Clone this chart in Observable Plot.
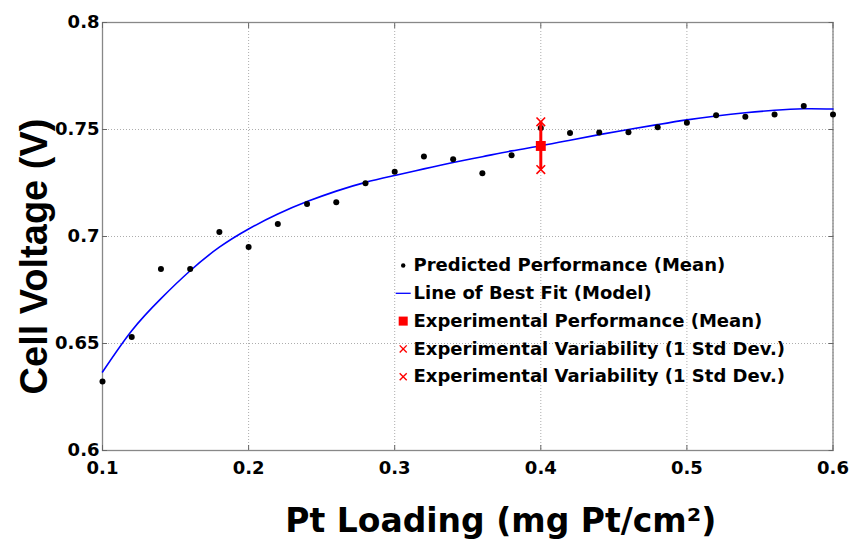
<!DOCTYPE html>
<html>
<head>
<meta charset="utf-8">
<script src="https://cdn.jsdelivr.net/npm/d3@7"></script>
<script src="https://cdn.jsdelivr.net/npm/@observablehq/plot@0.6"></script>
<style>
  html, body { margin: 0; padding: 0; background: #fff; }
  #chart { width: 852px; height: 541px; }
</style>
</head>
<body>
<div id="chart"></div>
<script>
// Predicted performance (mean)
const predLoading = [0.10,0.12,0.14,0.16,0.18,0.20,0.22,0.24,0.26,0.28,0.30,0.32,0.34,0.36,0.38,0.40,0.42,0.44,0.46,0.48,0.50,0.52,0.54,0.56,0.58,0.60];
const predVoltage = [0.6323,0.6530,0.6848,0.6848,0.7021,0.6951,0.7058,0.7152,0.7160,0.7249,0.7303,0.7374,0.7361,0.7295,0.7380,0.7507,0.7484,0.7486,0.7487,0.7510,0.7531,0.7567,0.7560,0.7570,0.7610,0.7570];

// Line of best fit (model)
const fitLoading = [0.10,0.12,0.14,0.16,0.18,0.20,0.22,0.24,0.26,0.28,0.30,0.32,0.34,0.36,0.38,0.40,0.42,0.44,0.46,0.48,0.50,0.52,0.54,0.56,0.58,0.60];
const fitVoltage = [0.6367,0.6560,0.6710,0.6840,0.6950,0.7035,0.7105,0.7163,0.7212,0.7253,0.7285,0.7316,0.7346,0.7373,0.7400,0.7424,0.7450,0.7476,0.7500,0.7523,0.7545,0.7563,0.7578,0.7590,0.7597,0.7596];

// Experimental performance
const expLoading = [0.40];
const expMean = [0.7423];
const expLow = [0.7313];
const expHigh = [0.7536];

// Axes
const xTicks = [0.1,0.2,0.3,0.4,0.5,0.6];
const yTicks = [0.6,0.65,0.7,0.75,0.8];
const xTickLabels = ["0.1","0.2","0.3","0.4","0.5","0.6"];
const yTickLabels = ["0.6","0.65","0.7","0.75","0.8"];

const legendLabels = [
  "Predicted Performance (Mean)",
  "Line of Best Fit (Model)",
  "Experimental Performance (Mean)",
  "Experimental Variability (1 Std Dev.)",
  "Experimental Variability (1 Std Dev.)"
];

const pred = predLoading.map((x, i) => ({x, y: predVoltage[i]}));
const fit = fitLoading.map((x, i) => ({x, y: fitVoltage[i]}));
const exp = expLoading.map((x, i) => ({x, mean: expMean[i], lo: expLow[i], hi: expHigh[i]}));

const sansFont = "'Liberation Sans', Arial, sans-serif";
const dejaFont = "'DejaVu Sans', Verdana, sans-serif";

const hline = { draw(ctx, size) { ctx.moveTo(-7.5, 0); ctx.lineTo(7.5, 0); } };

const legX = 311, legY0 = 243, legStep = 27.8, mkX = 300.7;
const legendMarks = [];
legendLabels.forEach((t, i) => {
  legendMarks.push(Plot.text([t], {
    text: d => d, frameAnchor: "top-left", dx: legX, dy: legY0 + i * legStep,
    textAnchor: "start", lineAnchor: "middle", fontFamily: dejaFont, fontWeight: "bold", fontSize: 18, fill: "#000"
  }));
});
legendMarks.push(Plot.dot([0], {frameAnchor: "top-left", dx: mkX, dy: legY0, r: 2.2, fill: "#000", stroke: "none"}));
legendMarks.push(Plot.dot([0], {frameAnchor: "top-left", dx: mkX, dy: legY0 + legStep, symbol: hline, r: 5, fill: "none", stroke: "#0000ff", strokeWidth: 1.3}));
legendMarks.push(Plot.dot([0], {frameAnchor: "top-left", dx: mkX, dy: legY0 + 2 * legStep, symbol: "square", r: 5.1, fill: "#ff0000", stroke: "none"}));
legendMarks.push(Plot.dot([0], {frameAnchor: "top-left", dx: mkX, dy: legY0 + 3 * legStep, symbol: "times", r: 3.3, fill: "none", stroke: "#ff0000", strokeWidth: 1.4}));
legendMarks.push(Plot.dot([0], {frameAnchor: "top-left", dx: mkX, dy: legY0 + 4 * legStep, symbol: "times", r: 3.3, fill: "none", stroke: "#ff0000", strokeWidth: 1.4}));

const chart = Plot.plot({
  width: 852,
  height: 541,
  marginLeft: 102,
  marginRight: 19.5,
  marginTop: 22,
  marginBottom: 91,
  style: {background: "#fff", overflow: "visible"},
  x: {domain: [0.1, 0.6]},
  y: {domain: [0.6, 0.8]},
  marks: [
    Plot.gridX(xTicks, {stroke: "#777", strokeOpacity: 0.6, strokeDasharray: "1,2", strokeWidth: 1}),
    Plot.gridY(yTicks, {stroke: "#777", strokeOpacity: 0.6, strokeDasharray: "1,2", strokeWidth: 1}),
    Plot.frame({stroke: "#888", strokeWidth: 1.3}),
    // inward ticks on all four sides
    Plot.axisX(xTicks, {anchor: "bottom", tickSize: -5, tickFormat: () => "", stroke: "#666", label: null}),
    Plot.axisX(xTicks, {anchor: "top", tickSize: -5, tickFormat: () => "", stroke: "#666", label: null}),
    Plot.axisY(yTicks, {anchor: "left", tickSize: -5, tickFormat: () => "", stroke: "#666", label: null}),
    Plot.axisY(yTicks, {anchor: "right", tickSize: -5, tickFormat: () => "", stroke: "#666", label: null}),
    // tick labels
    Plot.axisX(xTicks, {anchor: "bottom", tickSize: 0, tickPadding: 11, tickFormat: (d, i) => xTickLabels[i],
      fontSize: 18, fontWeight: "bold", fontFamily: dejaFont, fill: "#000", label: null}),
    Plot.axisY(yTicks, {anchor: "left", tickSize: 0, tickPadding: 3, tickFormat: (d, i) => yTickLabels[i],
      fontSize: 18, fontWeight: "bold", fontFamily: dejaFont, fill: "#000", label: null}),
    // axis titles
    Plot.text(["Pt Loading (mg Pt/cm²)"], {text: d => d, frameAnchor: "bottom", dx: 33, dy: 71,
      lineAnchor: "middle", textAnchor: "middle",
      fontSize: 33, fontWeight: "bold", fontFamily: dejaFont, fill: "#000"}),
    Plot.text(["Cell Voltage (V)"], {text: d => d, frameAnchor: "left", dx: -68, dy: 20, rotate: -90,
      lineAnchor: "middle", textAnchor: "middle",
      fontSize: 38, fontWeight: "bold", fontFamily: sansFont, fill: "#000"}),
    // data
    Plot.line(fit, {x: "x", y: "y", stroke: "#0000ff", strokeWidth: 1.6, curve: "natural"}),
    Plot.dot(pred, {x: "x", y: "y", r: 3, fill: "#000", stroke: "none"}),
    Plot.ruleX(exp, {x: "x", y1: "lo", y2: "hi", stroke: "#ff0000", strokeWidth: 3}),
    Plot.dot(exp, {x: "x", y: "lo", symbol: "times", r: 4, stroke: "#ff0000", strokeWidth: 1.6, fill: "none"}),
    Plot.dot(exp, {x: "x", y: "hi", symbol: "times", r: 4, stroke: "#ff0000", strokeWidth: 1.6, fill: "none"}),
    Plot.dot(exp, {x: "x", y: "mean", symbol: "square", r: 5.6, fill: "#ff0000", stroke: "none"}),
    ...legendMarks
  ]
});
document.getElementById("chart").appendChild(chart);
</script>
</body>
</html>
